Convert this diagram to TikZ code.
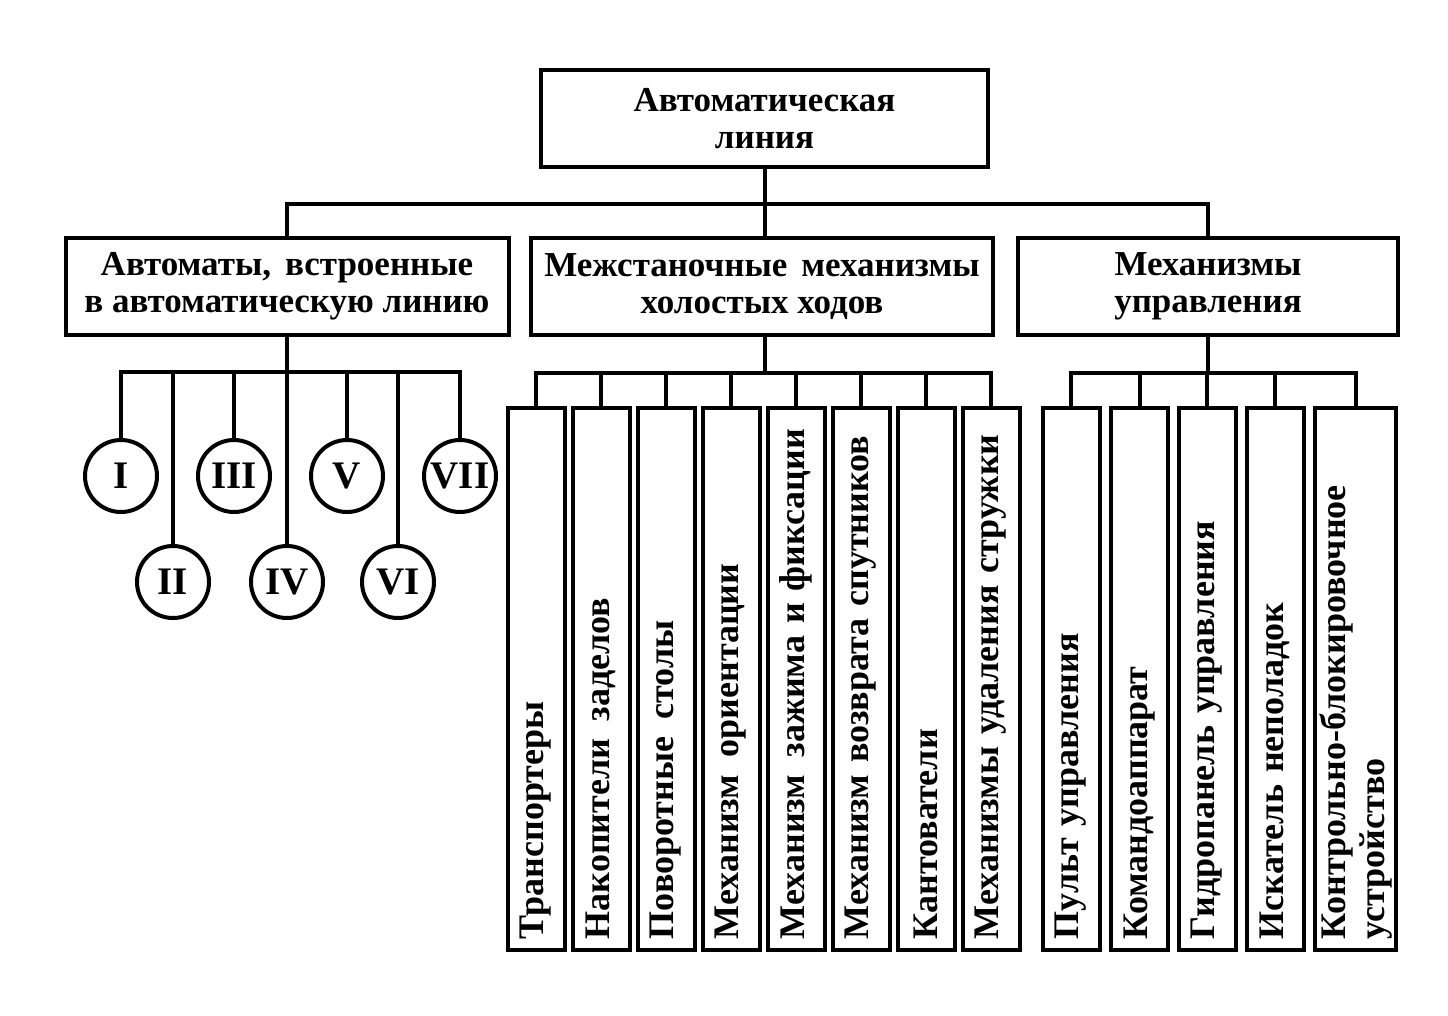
\documentclass[tikz,border=0pt]{standalone}
\usepackage{fontspec}
\setmainfont{Liberation Serif}
\newcommand{\wsp}{\ \hspace{0.15em}}
\begin{document}
\begin{tikzpicture}[x=1pt,y=-1pt,
  every node/.style={font=\fontsize{35}{37}\selectfont\bfseries},
  box/.style={draw, line width=4pt, inner sep=0pt, align=center},
  rn/.style={draw, circle, line width=4pt, minimum size=72pt, inner sep=0pt,
    font=\fontsize{39}{40}\selectfont\bfseries},
  vbox/.style={draw, line width=4pt, rotate=90, minimum width=542pt, minimum height=57pt,
    inner xsep=11pt, inner ysep=0pt, text width=520pt, align=left,
    font=\fontsize{36}{39}\selectfont\bfseries},
  conn/.style={line width=4pt}]
\useasboundingbox (0,0) rectangle (1448,1015);
% level 0
\node[box, minimum width=447pt, minimum height=97pt] (top) at (764.5,118.5) {Автоматическая\\линия};
% level 1
\node[box, minimum width=443pt, minimum height=97pt] (A) at (287,286.5) {Автоматы,\wsp встроенные\\в автоматическую линию};
\node[box, minimum width=462pt, minimum height=97pt] (B) at (762,286.5) {Межстаночные\wsp механизмы\\холостых ходов};
\node[box, minimum width=380pt, minimum height=97pt] (C) at (1208,286.5) {Механизмы\\управления};
\coordinate (j0) at (764.5,204);
\draw[conn] (top.south) -- (top.south |- B.north);
\draw[conn] (A.north) |- (j0) -| (C.north);
% automata
\node[rn] (r1) at (121,476) {I};
\node[rn] (r2) at (173,582) {II};
\node[rn] (r3) at (234,476) {III};
\node[rn] (r4) at (287,582) {IV};
\node[rn] (r5) at (347,476) {V};
\node[rn] (r6) at (398,582) {VI};
\node[rn] (r7) at (460,476) {VII};
\coordinate (jA) at (287,372);
\draw[conn] (A.south) -- (jA);
\draw[conn] (r1.north) |- (jA) -| (r7.north);
\foreach \i in {2,3,4,5,6} \draw[conn] (r\i.north) -- (r\i.north |- jA);
% mechanisms
\node[vbox] (b1) at (536,679) {Транспортеры};
\node[vbox] (b2) at (601,679) {Накопители\wsp заделов};
\node[vbox] (b3) at (666,679) {Поворотные\wsp столы};
\node[vbox] (b4) at (731,679) {Механизм\wsp ориентации};
\node[vbox] (b5) at (796,679) {Механизм\wsp зажима и фиксации};
\node[vbox] (b6) at (861,679) {Механизм возврата спутников};
\node[vbox] (b7) at (926,679) {Кантователи};
\node[vbox] (b8) at (991,679) {Механизмы удаления стружки};
\coordinate (jB) at (765,373);
\draw[conn] (B.south -| jB) -- (jB);
\draw[conn] (b1.east) |- (jB) -| (b8.east);
\foreach \i in {2,...,7} \draw[conn] (b\i.east) -- (b\i.east |- jB);
% control
\node[vbox] (c1) at (1071,679) {Пульт управления};
\node[vbox] (c2) at (1139.5,679) {Командоаппарат};
\node[vbox] (c3) at (1207,679) {Гидропанель управления};
\node[vbox] (c4) at (1275,679) {Искатель неполадок};
\node[vbox, minimum height=81pt] (c5) at (1355.5,679) {Контрольно-блокировочное\\устройство};
\coordinate (jC) at (1208,373);
\draw[conn] (C.south) -- (jC);
\draw[conn] (c1.east) |- (jC) -| (c5.east);
\foreach \i in {2,3,4} \draw[conn] (c\i.east) -- (c\i.east |- jC);
\end{tikzpicture}
\end{document}
